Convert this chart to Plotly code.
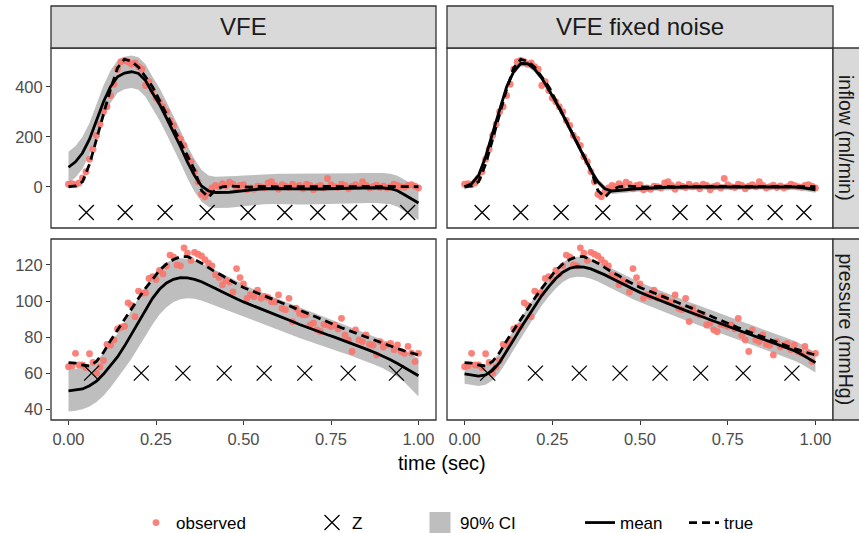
import plotly.graph_objects as go

FONT = "Liberation Sans, Arial, sans-serif"

# ---------------- data ----------------
t_obs = [i / 100 for i in range(101)]
t_fit = [i / 50 for i in range(51)]

inflow_obs = [
    10, 12, 8, 15, 35, 60, 110, 150, 205, 250,
    300, 320, 365, 410, 470, 500, 505, 500, 490, 495,
    480, 470, 405, 420, 385, 355, 340, 320, 300, 265,
    245, 205, 190, 165, 120, 100, 60, 20, -30, -40,
    -20, -5, 5, 0, 12, 3, 18, 10, -8, 5,
    8, -12, -5, -10, 2, 0, -5, 15, 20, 5,
    -10, 8, 2, -3, 10, 0, 5, -8, 10, 5,
    -12, 0, 5, -5, 33, 8, 0, -3, 10, 5,
    -8, 2, 8, 0, 20, 5, -5, 0, 6, -3,
    3, -5, 0, 10, 5, 0, -2, 5, 8, 2,
    -5]

pressure_obs = [
    63.6, 64, 71, 64.5, 64.5, 63, 70.8, 66, 60, 63.5,
    67, 76, 75.5, 78.5, 84.5, 85.5, 86, 99, 97.5, 91.3,
    105.5, 104.3, 104.5, 112.5, 113.5, 112, 117, 115, 119.5, 125.5,
    124.5, 120, 119.5, 129.5, 126.5, 122.5, 127, 126, 125, 123,
    121, 119.5, 114.6, 113, 109, 111.5, 110.5, 105, 118, 113,
    109.5, 101.5, 103.5, 102.4, 106, 101.5, 102.5, 102, 99.6, 99.5,
    103.4, 96, 95.2, 101.5, 88.6, 96, 93.2, 92.3, 92.5, 86.7,
    87.7, 84, 83, 87, 86.7, 85.8, 86.7, 84.5, 90.4, 81,
    78.4, 72, 84, 78.4, 77.5, 81.2, 76, 75.5, 70.1, 77.5,
    74.5, 75.7, 76.5, 73, 75.7, 72, 71, 74.8, 71.1, 66.4,
    71]

inflow_true = [
    0, 3, 20, 90, 190, 290, 390, 475, 510, 502,
    478, 440, 400, 345, 292, 235, 178, 122, 68, -15,
    -42, -12, 0, 3, 2, 0, -2, 1, 2, 0,
    -1, 1, 2, 0, -1, 0, 1, 2, 1, 0,
    -1, 0, 1, 0, -1, 0, 1, 0, -1, 0,
    0]

pressure_true = [
    65.8, 65.5, 64.5, 64.0, 66.5, 71.5, 78, 84, 90, 96,
    101.5, 107, 112, 117, 120.5, 123, 124.6, 124.6, 123, 121,
    118.5, 116, 114, 111.5, 109.5, 107.5, 106, 104.5, 103, 101.5,
    100, 98.3, 96.6, 95, 93.3, 91.6, 90, 88.3, 86.7, 85.2,
    83.7, 82.2, 80.7, 79.2, 77.8, 76.4, 75, 73.6, 72.3, 71.1,
    70]

vfe_inflow_mean = [
    78, 100, 135, 190, 265, 340, 400, 440, 455, 460,
    453, 425, 375, 330, 275, 220, 160, 98, 45, 3,
    -17, -23, -24, -22, -19, -15, -12, -10, -8, -7,
    -7, -7, -8, -9, -9, -9, -9, -8, -8, -7,
    -7, -6, -5, -4, -4, -5, -8, -16, -32, -48,
    -65]
vfe_inflow_hi = [
    140, 163, 200, 255, 330, 405, 465, 505, 520, 525,
    518, 490, 440, 395, 340, 285, 225, 163, 110, 68,
    45, 40, 40, 41, 43, 45, 47, 49, 50, 51,
    52, 52, 52, 51, 51, 51, 51, 52, 52, 53,
    53, 54, 55, 56, 56, 55, 52, 44, 28, 12,
    -13]
vfe_inflow_lo = [
    15, 37, 72, 127, 200, 275, 335, 375, 390, 395,
    388, 360, 310, 265, 210, 155, 95, 33, -20, -60,
    -80, -85, -86, -84, -81, -78, -75, -72, -70, -69,
    -69, -69, -70, -71, -71, -71, -71, -70, -70, -69,
    -68, -67, -66, -65, -65, -66, -70, -80, -97, -115,
    -133]

fix_inflow_mean = [
    0, 12, 45, 120, 215, 310, 400, 460, 493, 492,
    470, 435, 390, 340, 288, 232, 175, 118, 65, 20,
    -8, -17, -16, -12, -9, -7, -5, -4, -3, -2,
    -2, -1, -1, 0, 0, 0, -1, -1, 0, 0,
    0, 1, 1, 0, 0, 0, 0, -1, -3, -7,
    -12]
fix_inflow_hi = [
    12, 24, 57, 132, 227, 322, 412, 472, 505, 504,
    482, 447, 402, 352, 300, 244, 187, 130, 77, 32,
    4, -5, -4, 0, 3, 5, 7, 8, 9, 10,
    10, 11, 11, 12, 12, 12, 11, 11, 12, 12,
    12, 13, 13, 12, 12, 12, 12, 11, 9, 5,
    0]
fix_inflow_lo = [
    -12, 0, 33, 108, 203, 298, 388, 448, 481, 480,
    458, 423, 378, 328, 276, 220, 163, 106, 53, 8,
    -20, -29, -28, -24, -21, -19, -17, -16, -15, -14,
    -14, -13, -13, -12, -12, -12, -13, -13, -12, -12,
    -12, -11, -11, -12, -12, -12, -12, -13, -15, -19,
    -24]

vfe_pressure_mean = [
    50.1, 50.5, 51.2, 53, 55.5, 59.5, 64, 69, 75, 81.5,
    88, 95, 101.5, 106.5, 110, 112, 113, 112.8, 112, 110.7,
    109, 107, 105, 103, 101.2, 99.5, 98, 96.5, 95, 93.4,
    91.8, 90.2, 88.6, 87, 85.5, 84, 82.6, 81.3, 80, 78.6,
    77.2, 75.7, 74.2, 72.6, 71, 69.3, 67.4, 65.3, 63, 60.8,
    58.5]
vfe_pressure_hi = [
    62, 62.5, 63, 64.5, 67, 71, 76, 82, 88, 95,
    102, 108.5, 114, 118.5, 121.5, 123, 123.7, 123.5, 122.5, 121,
    119, 117, 115, 113, 111, 109, 107.3, 105.7, 104.2, 102.7,
    101.2, 99.7, 98.2, 96.6, 95, 93.5, 92, 90.4, 88.8, 87.3,
    85.8, 84.3, 82.8, 81.3, 79.8, 78.2, 76.5, 74.5, 72.3, 70.3,
    68.3]
vfe_pressure_lo = [
    38.7, 39.2, 40, 41.5, 44, 47.5, 52, 57, 62.5, 68,
    74, 80.5, 87, 92.5, 96.5, 99.5, 101, 101.5, 101.2, 100.3,
    99, 97.5, 96, 94.5, 93, 91.5, 90, 88.5, 87, 85.5,
    84, 82.5, 81, 79.5, 78, 76.5, 75.2, 74, 72.8, 71.5,
    70.2, 68.8, 67.3, 65.8, 64.2, 62.5, 60.5, 58, 55, 51,
    47]

fix_pressure_mean = [
    59.6, 58.8, 58.3, 59, 61.5, 66, 72, 78.5, 85, 91,
    97, 103, 108, 112.5, 116, 118.2, 119, 118.8, 117.8, 116.3,
    114.5, 112.5, 110.5, 108.5, 106.5, 104.8, 103.2, 101.6, 100, 98.5,
    97, 95.5, 94, 92.5, 91, 89.5, 88, 86.6, 85.2, 83.8,
    82.4, 81, 79.6, 78.2, 76.8, 75.4, 74, 72.4, 70.5, 68.2,
    65.8]
fix_pressure_hi = [
    65.1, 64.3, 63.8, 64.5, 67, 71.5, 77.5, 84, 90.5, 96.5,
    102.5, 108.5, 113.5, 118, 121.5, 123.7, 124.5, 124.3, 123.3, 121.8,
    120, 118, 116, 114, 112, 110.3, 108.7, 107.1, 105.5, 104,
    102.5, 101, 99.5, 98, 96.5, 95, 93.5, 92.1, 90.7, 89.3,
    87.9, 86.5, 85.1, 83.7, 82.3, 80.9, 79.5, 77.9, 76, 73.7,
    71.3]
fix_pressure_lo = [
    54.1, 53.3, 52.8, 53.5, 56, 60.5, 66.5, 73, 79.5, 85.5,
    91.5, 97.5, 102.5, 107, 110.5, 112.7, 113.5, 113.3, 112.3, 110.8,
    109, 107, 105, 103, 101, 99.3, 97.7, 96.1, 94.5, 93,
    91.5, 90, 88.5, 87, 85.5, 84, 82.5, 81.1, 79.7, 78.3,
    76.9, 75.5, 74.1, 72.7, 71.3, 69.9, 68.5, 66.9, 65, 62.7,
    60.3]

z_vfe_inflow = [0.051, 0.162, 0.276, 0.396, 0.513, 0.618, 0.712, 0.803, 0.889, 0.969]
z_fix_inflow = [0.050, 0.160, 0.275, 0.394, 0.510, 0.614, 0.711, 0.800, 0.885, 0.967]
z_vfe_pressure = [0.066, 0.208, 0.327, 0.445, 0.559, 0.675, 0.799, 0.937]
z_fix_pressure = [0.066, 0.202, 0.327, 0.443, 0.557, 0.673, 0.794, 0.933]
z_inflow_level = -103
z_pressure_level = 60

methods = ["VFE", "VFE fixed noise"]
variables = ["inflow (ml/min)", "pressure (mmHg)"]
x_ticks = [0, 0.25, 0.5, 0.75, 1.0]
x_ticktext = ["0.00", "0.25", "0.50", "0.75", "1.00"]
inflow_ticks = [0, 200, 400]
pressure_ticks = [40, 60, 80, 100, 120]

# ---------------- figure ----------------
W, H = 859, 533
fig = go.Figure()

panels = [
    ("x", "y", vfe_inflow_mean, vfe_inflow_lo, vfe_inflow_hi, inflow_true, inflow_obs, z_vfe_inflow, z_inflow_level),
    ("x2", "y2", fix_inflow_mean, fix_inflow_lo, fix_inflow_hi, inflow_true, inflow_obs, z_fix_inflow, z_inflow_level),
    ("x3", "y3", vfe_pressure_mean, vfe_pressure_lo, vfe_pressure_hi, pressure_true, pressure_obs, z_vfe_pressure, z_pressure_level),
    ("x4", "y4", fix_pressure_mean, fix_pressure_lo, fix_pressure_hi, pressure_true, pressure_obs, z_fix_pressure, z_pressure_level),
]

OBS_COL = "rgba(248,118,109,0.9)"
BAND_COL = "#BEBEBE"

for i, (xa, ya, mean, lo, hi, true, obs, zt, zl) in enumerate(panels):
    first = i == 0
    fig.add_trace(go.Scatter(
        x=t_fit + t_fit[::-1], y=hi + lo[::-1], xaxis=xa, yaxis=ya,
        fill="toself", fillcolor=BAND_COL, mode="lines", line=dict(width=0),
        showlegend=False, hoverinfo="skip"))
    fig.add_trace(go.Scatter(
        x=t_obs, y=obs, xaxis=xa, yaxis=ya, mode="markers",
        marker=dict(size=6.8, color=OBS_COL), name="observed",
        legend="legend", showlegend=first))
    fig.add_trace(go.Scatter(
        x=zt, y=[zl] * len(zt), xaxis=xa, yaxis=ya, mode="markers",
        marker=dict(symbol="x-thin", size=15, line=dict(width=1.3, color="black"), color="black"),
        name="Z", legend="legend2", showlegend=first))
    fig.add_trace(go.Scatter(
        x=t_fit, y=mean, xaxis=xa, yaxis=ya, mode="lines",
        line=dict(color="black", width=2.8), name="mean",
        legend="legend4", showlegend=first))
    fig.add_trace(go.Scatter(
        x=t_fit, y=true, xaxis=xa, yaxis=ya, mode="lines",
        line=dict(color="black", width=2.8, dash="8px,5px"), name="true",
        legend="legend5", showlegend=first))

# legend-only entry for the ribbon
fig.add_trace(go.Scatter(
    x=[None], y=[None], mode="markers", name="90% CI", legend="legend3",
    marker=dict(symbol="square", size=16, color=BAND_COL, line=dict(width=5, color=BAND_COL))))

# panel geometry (pixels)
xl = [51 / W, 436 / W]
xr = [447 / W, 833 / W]
yt = [1 - 228 / H, 1 - 48 / H]
yb = [1 - 420 / H, 1 - 239 / H]

axis_common = dict(showgrid=False, zeroline=False, showline=False, automargin=False,
                   tickfont=dict(size=16.5, color="#4D4D4D", family=FONT),
                   ticklen=4, tickwidth=1.1, tickcolor="#333333")
xr_range = [-0.05, 1.05]

fig.update_layout(
    xaxis=dict(domain=xl, anchor="y", range=xr_range, showticklabels=False, ticks="", **axis_common),
    xaxis2=dict(domain=xr, anchor="y2", range=xr_range, showticklabels=False, ticks="", **axis_common),
    xaxis3=dict(domain=xl, anchor="y3", range=xr_range, tickvals=x_ticks, ticktext=x_ticktext, ticks="outside", **axis_common),
    xaxis4=dict(domain=xr, anchor="y4", range=xr_range, tickvals=x_ticks, ticktext=x_ticktext, ticks="outside", **axis_common),
    yaxis=dict(domain=yt, anchor="x", range=[-165, 555], tickvals=inflow_ticks, ticks="outside", **axis_common),
    yaxis2=dict(domain=yt, anchor="x2", range=[-165, 555], showticklabels=False, ticks="", **axis_common),
    yaxis3=dict(domain=yb, anchor="x3", range=[34, 134.4], tickvals=pressure_ticks, ticks="outside", **axis_common),
    yaxis4=dict(domain=yb, anchor="x4", range=[34, 134.4], showticklabels=False, ticks="", **axis_common),
)

shapes = []
annotations = []
panel_h_top = 180.0
panel_h_bot = 181.0
for xa, ya in [("x", "y"), ("x2", "y2"), ("x3", "y3"), ("x4", "y4")]:
    shapes.append(dict(type="rect", xref=f"{xa} domain", yref=f"{ya} domain",
                       x0=0, x1=1, y0=0, y1=1, line=dict(color="#333333", width=1.3),
                       fillcolor="rgba(0,0,0,0)", layer="above"))
# top strips
for xa, ya, label in [("x", "y", methods[0]), ("x2", "y2", methods[1])]:
    shapes.append(dict(type="rect", xref=f"{xa} domain", yref=f"{ya} domain",
                       x0=0, x1=1, y0=1, y1=1 + 42 / panel_h_top,
                       line=dict(color="#333333", width=1.3), fillcolor="#D9D9D9", layer="above"))
    annotations.append(dict(xref=f"{xa} domain", yref=f"{ya} domain", x=0.5, y=1 + 21 / panel_h_top,
                            text=label, showarrow=False, xanchor="center", yanchor="middle",
                            font=dict(size=24, color="#1A1A1A", family=FONT)))
# right strips
for xa, ya, label, ph in [("x2", "y2", variables[0], panel_h_top), ("x4", "y4", variables[1], panel_h_bot)]:
    shapes.append(dict(type="rect", xref=f"{xa} domain", yref=f"{ya} domain",
                       x0=1, x1=1 + 27 / 386, y0=0, y1=1,
                       line=dict(color="#333333", width=1.3), fillcolor="#D9D9D9", layer="above"))
    annotations.append(dict(xref=f"{xa} domain", yref=f"{ya} domain", x=1 + 13 / 386, y=0.5,
                            text=label, showarrow=False, xanchor="center", yanchor="middle",
                            textangle=90, font=dict(size=19.5, color="#1A1A1A", family=FONT)))
# x axis title
annotations.append(dict(xref="paper", yref="paper", x=442 / W, y=1 - 463 / H,
                        text="time (sec)", showarrow=False, xanchor="center", yanchor="middle",
                        font=dict(size=20, color="black", family=FONT)))

leg_y = 1 - 523 / H
def leg(px):
    return dict(x=px / W, y=leg_y, xref="container", yref="container",
                xanchor="left", yanchor="middle", orientation="h",
                bgcolor="rgba(0,0,0,0)", borderwidth=0,
                font=dict(size=17, color="black", family=FONT))

fig.update_layout(
    shapes=shapes, annotations=annotations,
    legend=leg(136), legend2=leg(312), legend3=leg(420), legend4=leg(580), legend5=leg(684),
    width=W, height=H, margin=dict(l=0, r=0, t=0, b=0, autoexpand=False),
    template="none", plot_bgcolor="white", paper_bgcolor="white",
    font=dict(family=FONT, color="black"), hovermode=False,
)

fig.write_html("out.html")
